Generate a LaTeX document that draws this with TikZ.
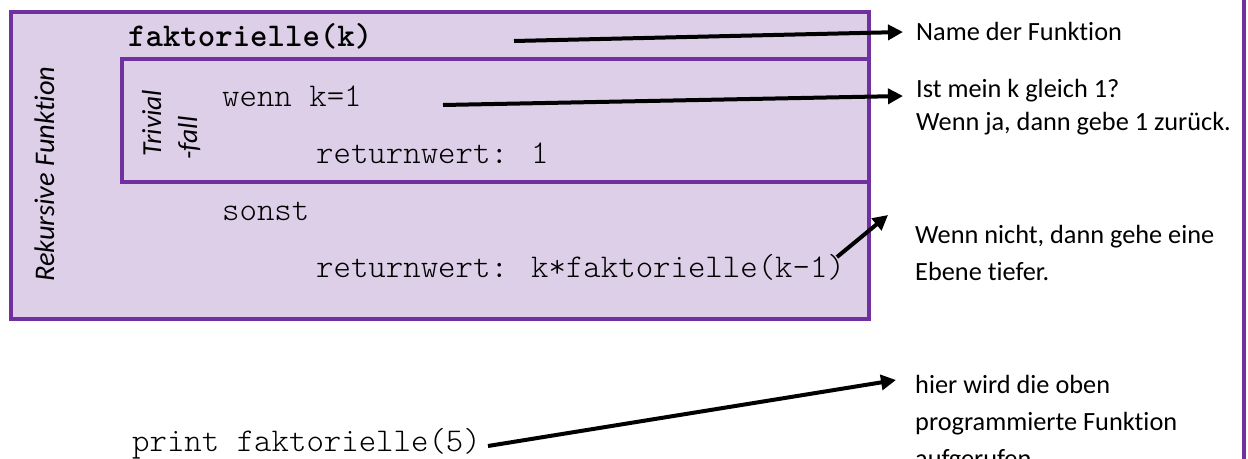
\documentclass[tikz,border=0pt]{standalone}
\usepackage{fontspec}
\usetikzlibrary{arrows.meta}
\newfontfamily\labelfont{Carlito}[Ligatures=NoCommon]
\newfontfamily\monolight{lmmonolt10-regular}[Extension=.otf]
\newcommand\codefont{\monolight\fontsize{33.2}{38}\selectfont}
\newcommand\codebold{\ttfamily\bfseries\fontsize{33.2}{38}\selectfont}
\definecolor{rahmen}{RGB}{112,48,160}
\definecolor{flaeche}{RGB}{221,207,232}
\tikzset{
  codetext/.style={font=\codefont, anchor=base west, inner sep=0pt},
  notetext/.style={font=\labelfont\fontsize{26.3}{32}\selectfont, anchor=base west, inner sep=0pt},
  sidetext/.style={font=\labelfont\itshape\fontsize{28.4}{32}\selectfont, anchor=base west, inner sep=0pt, rotate=90},
  pfeil/.style={line width=4pt, -{Triangle[length=15pt,width=15pt]}},
  rahmenlinie/.style={draw=rahmen, line width=4pt},
}
\begin{document}
\begin{tikzpicture}[x=1pt,y=-1pt]
  \clip (0,0) rectangle (1248,458);

  % outer frame of the recursive function and the trivial case box
  \path[rahmenlinie, fill=flaeche] (11,11.5) rectangle (869,319);
  \path[rahmenlinie] (122,59) rectangle (869,182);

  % right border line
  \draw[draw=rahmen, line width=3.5pt] (1244,-5) -- (1244,465);

  % side captions
  \node[sidetext] (rek) at (54,282) {Rekursive Funktion};
  \node[sidetext, font=\labelfont\itshape\fontsize{27.5}{32}\selectfont] (triv1) at (161,157) {Trivial};
  \node[sidetext, font=\labelfont\itshape\fontsize{27.5}{32}\selectfont] (triv2) at (197,160) {-fall};

  % code
  \node[codetext, font=\codebold] (name) at (128,46) {faktorielle(k)};
  \node[codetext] (wenn) at (222,106) {wenn k=1};
  \node[codetext] (ret1) at (316,163) {returnwert: 1};
  \node[codetext] (sonst) at (222,220) {sonst};
  \node[codetext] (ret2) at (316,277) {returnwert: k*faktorielle(k-1)};
  \node[codetext] (aufruf) at (132,451) {print faktorielle(5)};

  % explanations
  \node[notetext] (n1) at (916,40) {Name der Funktion};
  \node[notetext] (n2a) at (916,97) {Ist mein k gleich 1?};
  \node[notetext] (n2b) at (916,130) {Wenn ja, dann gebe 1 zurück.};
  \node[notetext] (n3a) at (915,243) {Wenn nicht, dann gehe eine};
  \node[notetext] (n3b) at (915,280) {Ebene tiefer.};
  \node[notetext] (n4a) at (915,393) {hier wird die oben};
  \node[notetext] (n4b) at (915,430) {programmierte Funktion};
  \node[notetext] (n4c) at (915,467) {aufgerufen.};

  % arrow end points
  \coordinate (s1) at (514,41);  \coordinate (t1) at (903,32);
  \coordinate (s2) at (443,105); \coordinate (t2) at (903,96);
  \coordinate (s3) at (837,257); \coordinate (t3) at (888,215);
  \coordinate (s4) at (488,446); \coordinate (t4) at (896,380);

  \draw[pfeil] (s1) -- (t1);
  \draw[pfeil] (s2) -- (t2);
  \draw[pfeil] (s3) -- (t3);
  \draw[pfeil] (s4) -- (t4);
\end{tikzpicture}
\end{document}
